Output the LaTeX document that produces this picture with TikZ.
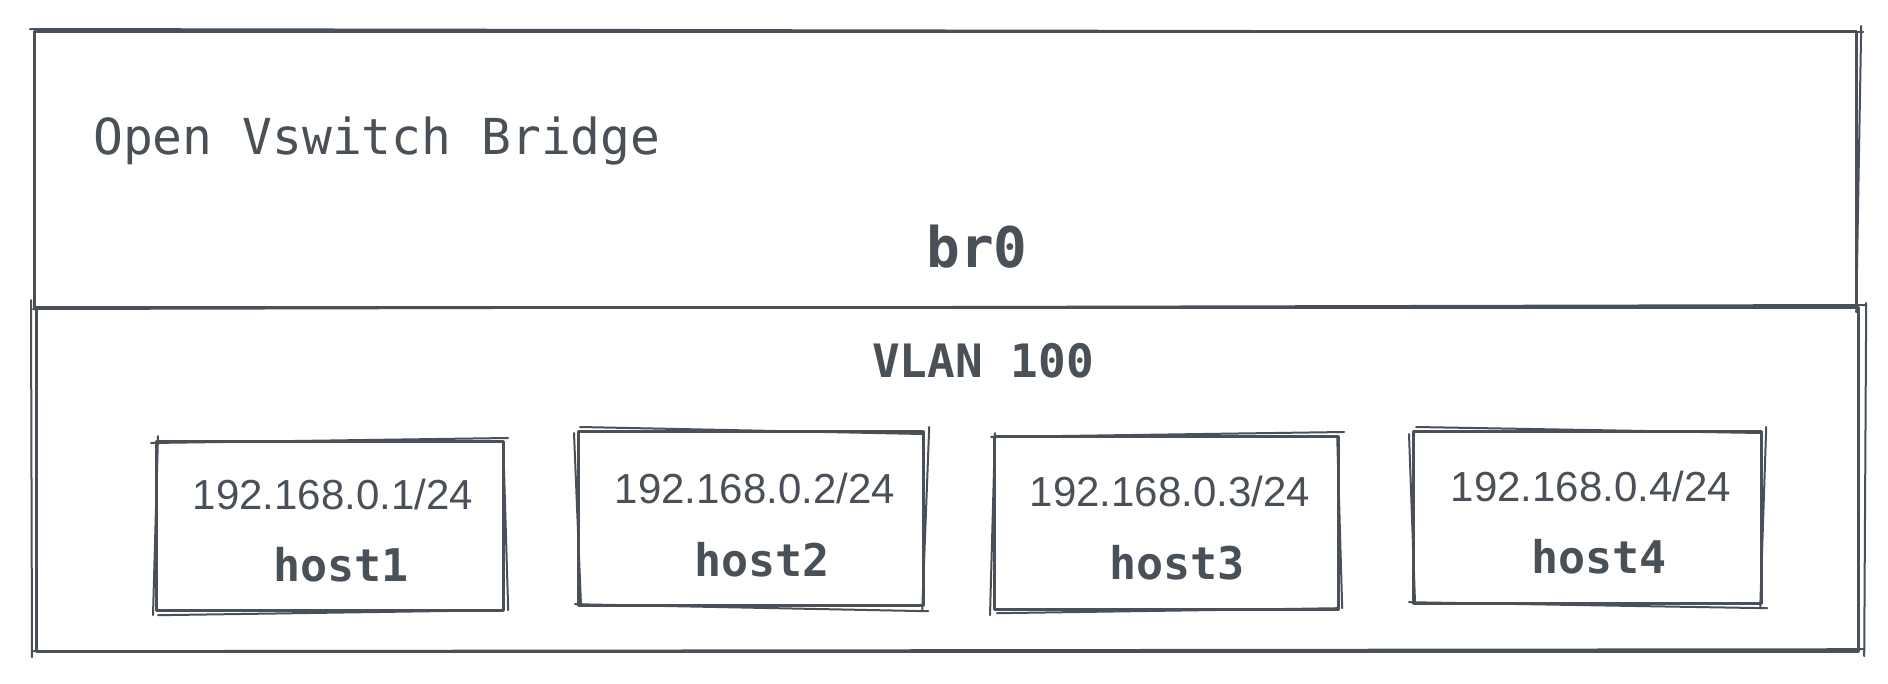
\documentclass[tikz,border=0pt]{standalone}
\usepackage{fontspec}
\setmainfont{Liberation Sans}
\setmonofont{DejaVu Sans Mono}
\definecolor{ink}{HTML}{495057}
\begin{document}
\begin{tikzpicture}[x=1pt,y=-1pt,line cap=round,line join=round,
  box/.style={draw=ink,line width=3.2pt,inner sep=0pt,anchor=north west},
  sk/.style={draw=ink,line width=2pt},
  ttl/.style={text=ink,inner sep=0pt,anchor=base west,font=\ttfamily\fontsize{49.6}{55}\selectfont},
  big/.style={text=ink,inner sep=0pt,anchor=base,font=\ttfamily\bfseries\fontsize{56}{60}\selectfont},
  vl/.style={text=ink,inner sep=0pt,anchor=base,font=\ttfamily\bfseries\fontsize{46}{50}\selectfont},
  ip/.style={text=ink,inner sep=0pt,anchor=base,font=\fontsize{42}{46}\selectfont},
  hn/.style={text=ink,inner sep=0pt,anchor=base,font=\ttfamily\bfseries\fontsize{45}{50}\selectfont}]
\useasboundingbox (0,0) rectangle (1888,683);
\fill[white] (0,0) rectangle (1888,683);
% outer regions
\node[box,minimum width=1822pt,minimum height=276pt] (br) at (33,30) {};
\node[box,minimum width=1822pt,minimum height=344pt] (vlan) at (35,306) {};
\draw[sk] ([shift={(-3,-1)}]br.north west) -- ([shift={(5,2)}]br.north east);
\draw[sk] ([shift={(3,-4)}]br.north east) -- ([shift={(-2,3)}]br.south east);
\draw[sk] ([shift={(-2,3)}]vlan.north west) -- ([shift={(5,-1)}]vlan.north east);
\draw[sk] ([shift={(6,-3)}]vlan.north east) -- ([shift={(4,3)}]vlan.south east);
\draw[sk] ([shift={(-3,-2)}]vlan.south west) -- ([shift={(4,-4)}]vlan.south east);
\draw[sk] ([shift={(-4,-6)}]vlan.north west) -- ([shift={(-3,4)}]vlan.south west);
% texts
\node[ttl] (title) at (93,154) {Open Vswitch Bridge};
\node[big] (br0) at (977,267) {br0};
\node[vl] (vlanlbl) at (983,377) {VLAN 100};
% hosts
\node[box,minimum width=347pt,minimum height=169pt] (h1) at (155,440) {};
\node[box,minimum width=345pt,minimum height=174pt] (h2) at (577,430) {};
\node[box,minimum width=344pt,minimum height=173pt] (h3) at (993,435) {};
\node[box,minimum width=348pt,minimum height=172pt] (h4) at (1412,430) {};
\foreach \h/\a/\b/\c/\d in {h1/-4/3/3/-2, h2/3/-3/-2/4, h3/-2/2/4/-3, h4/4/-3/-3/3}{
  \draw[sk] ([shift={(\a,\b)}]\h.north west) -- ([shift={(\c,\d)}]\h.north east);
  \draw[sk] ([shift={(\c,\b)}]\h.south west) -- ([shift={(\a,\d)}]\h.south east);
  \draw[sk] ([shift={(\b,\a)}]\h.north west) -- ([shift={(\d,\c)}]\h.south west);
  \draw[sk] ([shift={(\d,\b)}]\h.north east) -- ([shift={(\b,\d)}]\h.south east);
}
\node[ip] (ip1) at (333,509) {192.168.0.1/24};
\node[hn] (n1) at (341,581) {host1};
\node[ip] (ip2) at (755,503) {192.168.0.2/24};
\node[hn] (n2) at (762,576) {host2};
\node[ip] (ip3) at (1170,506) {192.168.0.3/24};
\node[hn] (n3) at (1177,579) {host3};
\node[ip] (ip4) at (1591,501) {192.168.0.4/24};
\node[hn] (n4) at (1599,573) {host4};
\end{tikzpicture}
\end{document}
